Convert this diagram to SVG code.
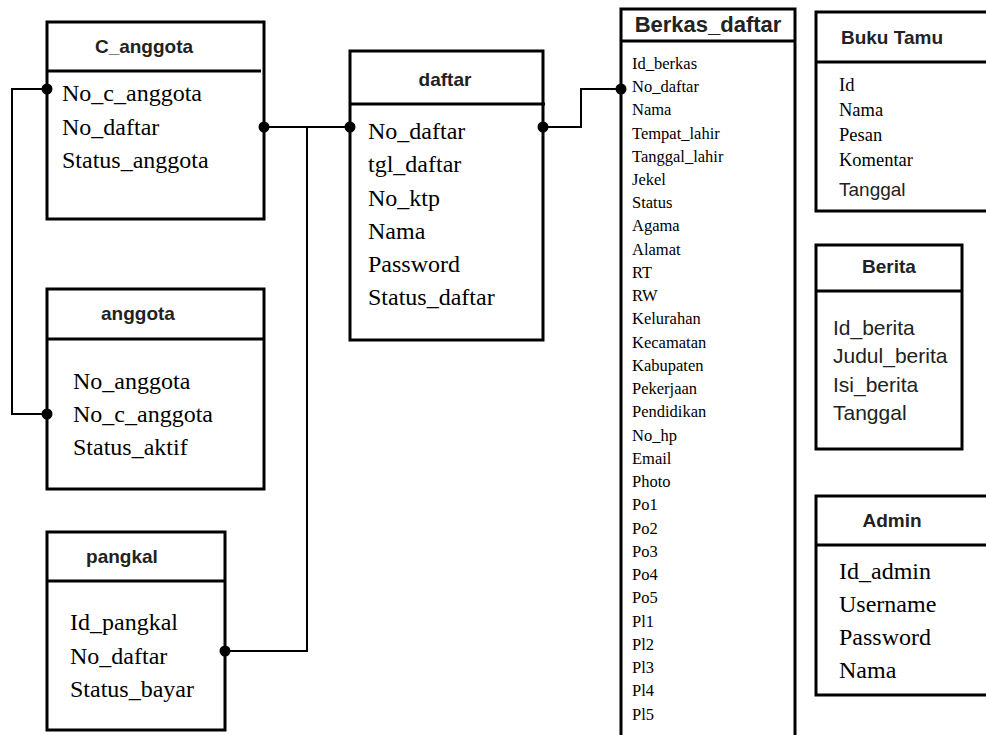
<svg xmlns="http://www.w3.org/2000/svg" width="986" height="735" viewBox="0 0 986 735">
<style>
.box{fill:#fff;stroke:#000;stroke-width:3}
.sep{stroke:#000;stroke-width:3}
.title{font-family:"Liberation Sans",Arial,sans-serif;font-weight:bold;font-size:19px;fill:#222;text-anchor:middle}
.f24{font-family:"Liberation Serif","Times New Roman",serif;font-size:24px;fill:#000}
.f18{font-family:"Liberation Serif","Times New Roman",serif;font-size:18.5px;fill:#000}
.f16{font-family:"Liberation Serif","Times New Roman",serif;font-size:16.5px;fill:#000}
.s21{font-family:"Liberation Sans",Arial,sans-serif;font-size:21px;fill:#222}
.s19{font-family:"Liberation Sans",Arial,sans-serif;font-size:19px;fill:#222}
.conn{fill:none;stroke:#000;stroke-width:2}
.dot{fill:#000}
</style>
<rect width="986" height="735" fill="#fff"/>

<g id="C_anggota">
<rect class="box" x="47" y="22" width="217" height="197"/>
<line class="sep" x1="47" y1="71" x2="261" y2="71"/>
<text class="title" x="144" y="53">C_anggota</text>
<text class="f24" x="62" y="101">No_c_anggota</text>
<text class="f24" x="62" y="135">No_daftar</text>
<text class="f24" x="62" y="168">Status_anggota</text>
</g>

<g id="anggota">
<rect class="box" x="47" y="289" width="217" height="200"/>
<line class="sep" x1="47" y1="339" x2="264" y2="339"/>
<text class="title" x="138" y="320">anggota</text>
<text class="f24" x="73" y="389">No_anggota</text>
<text class="f24" x="73" y="422">No_c_anggota</text>
<text class="f24" x="73" y="455">Status_aktif</text>
</g>

<g id="pangkal">
<rect class="box" x="47" y="532" width="178" height="198"/>
<line class="sep" x1="47" y1="581" x2="225" y2="581"/>
<text class="title" x="122" y="563">pangkal</text>
<text class="f24" x="70" y="630">Id_pangkal</text>
<text class="f24" x="70" y="664">No_daftar</text>
<text class="f24" x="70" y="697">Status_bayar</text>
</g>

<g id="daftar">
<rect class="box" x="350" y="51" width="193" height="289"/>
<line class="sep" x1="350" y1="104" x2="545" y2="104"/>
<text class="title" x="445" y="86">daftar</text>
<text class="f24" x="368" y="139">No_daftar</text>
<text class="f24" x="368" y="172">tgl_daftar</text>
<text class="f24" x="368" y="206">No_ktp</text>
<text class="f24" x="368" y="239">Nama</text>
<text class="f24" x="368" y="272">Password</text>
<text class="f24" x="368" y="305">Status_daftar</text>
</g>

<g id="Berkas_daftar">
<rect class="box" x="621" y="9" width="174" height="740"/>
<line class="sep" x1="621" y1="41" x2="795" y2="41"/>
<text class="title" x="708" y="32" style="font-size:22px">Berkas_daftar</text>
<g class="f16">
<text x="632" y="69">Id_berkas</text>
<text x="632" y="92">No_daftar</text>
<text x="632" y="115">Nama</text>
<text x="632" y="139">Tempat_lahir</text>
<text x="632" y="162">Tanggal_lahir</text>
<text x="632" y="185">Jekel</text>
<text x="632" y="208">Status</text>
<text x="632" y="231">Agama</text>
<text x="632" y="255">Alamat</text>
<text x="632" y="278">RT</text>
<text x="632" y="301">RW</text>
<text x="632" y="324">Kelurahan</text>
<text x="632" y="348">Kecamatan</text>
<text x="632" y="371">Kabupaten</text>
<text x="632" y="394">Pekerjaan</text>
<text x="632" y="417">Pendidikan</text>
<text x="632" y="441">No_hp</text>
<text x="632" y="464">Email</text>
<text x="632" y="487">Photo</text>
<text x="632" y="510">Po1</text>
<text x="632" y="534">Po2</text>
<text x="632" y="557">Po3</text>
<text x="632" y="580">Po4</text>
<text x="632" y="603">Po5</text>
<text x="632" y="627">Pl1</text>
<text x="632" y="650">Pl2</text>
<text x="632" y="673">Pl3</text>
<text x="632" y="696">Pl4</text>
<text x="632" y="720">Pl5</text>
</g>
</g>

<g id="Buku_Tamu">
<rect class="box" x="816" y="12" width="180" height="199"/>
<line class="sep" x1="816" y1="62" x2="996" y2="62"/>
<text class="title" x="892" y="44">Buku Tamu</text>
<text class="f18" x="839" y="91">Id</text>
<text class="f18" x="839" y="116">Nama</text>
<text class="f18" x="839" y="141">Pesan</text>
<text class="f18" x="839" y="166">Komentar</text>
<text class="s19" x="839" y="196">Tanggal</text>
</g>

<g id="Berita">
<rect class="box" x="816" y="245" width="146" height="204"/>
<line class="sep" x1="816" y1="291" x2="962" y2="291"/>
<text class="title" x="889" y="273">Berita</text>
<text class="s21" x="833" y="335">Id_berita</text>
<text class="s21" x="833" y="363">Judul_berita</text>
<text class="s21" x="833" y="392">Isi_berita</text>
<text class="s21" x="833" y="420">Tanggal</text>
</g>

<g id="Admin">
<rect class="box" x="816" y="496" width="180" height="199"/>
<line class="sep" x1="816" y1="545" x2="996" y2="545"/>
<text class="title" x="892" y="527">Admin</text>
<text class="f24" x="839" y="579">Id_admin</text>
<text class="f24" x="839" y="612">Username</text>
<text class="f24" x="839" y="645">Password</text>
<text class="f24" x="839" y="678">Nama</text>
</g>

<g id="connectors">
<polyline class="conn" points="47,89 12,89 12,414 47,414"/>
<line class="conn" x1="264" y1="127" x2="350" y2="127"/>
<polyline class="conn" points="307,127 307,651 225,651"/>
<polyline class="conn" points="543,127 581,127 581,89 621,89"/>
<circle class="dot" cx="47" cy="89" r="5.5"/>
<circle class="dot" cx="47" cy="414" r="5.5"/>
<circle class="dot" cx="264" cy="127" r="5.5"/>
<circle class="dot" cx="350" cy="127" r="5.5"/>
<circle class="dot" cx="225" cy="651" r="5.5"/>
<circle class="dot" cx="543" cy="127" r="5.5"/>
<circle class="dot" cx="621" cy="89" r="5.5"/>
</g>
</svg>
